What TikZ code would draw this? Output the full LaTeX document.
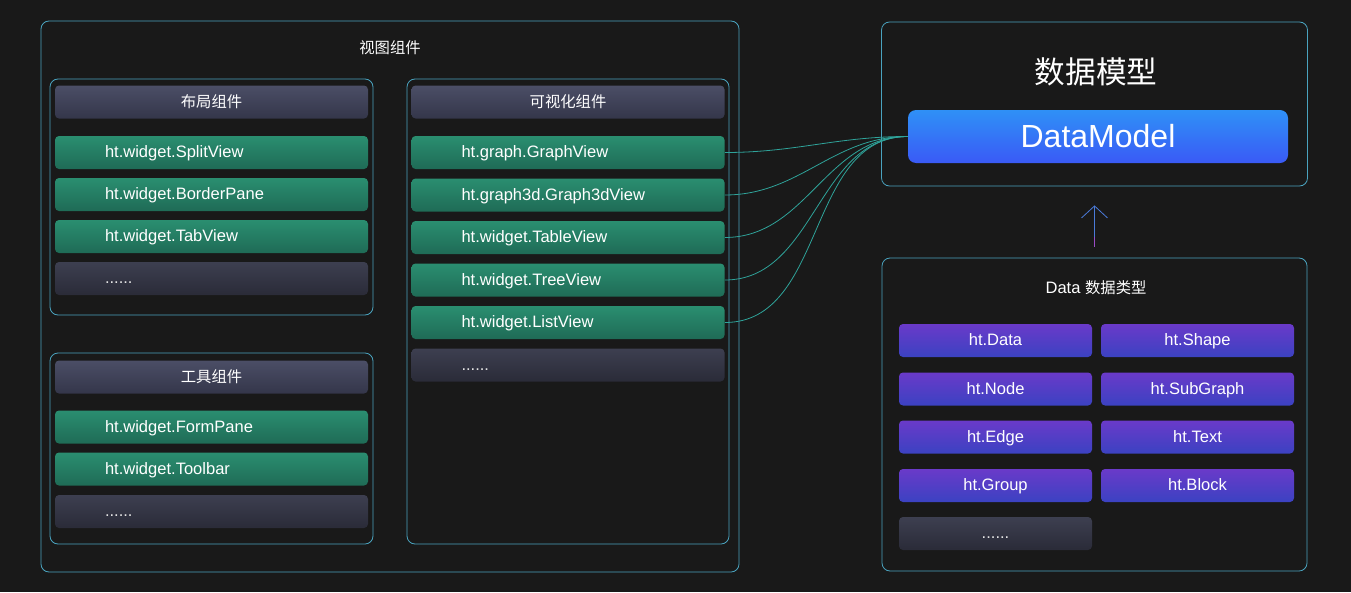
\documentclass[tikz,border=0pt]{standalone}
\usepackage{fontspec}
\setmainfont{Liberation Sans}
\newfontfamily\cjk{Noto Sans CJK SC}
\usetikzlibrary{arrows.meta}
\definecolor{bg}{HTML}{191919}
\definecolor{framec}{HTML}{4AA3BF}
\definecolor{greentop}{HTML}{2A8E70}
\definecolor{greenbot}{HTML}{1F6B56}
\definecolor{hdtop}{HTML}{4B4E66}
\definecolor{hdbot}{HTML}{34364A}
\definecolor{moretop}{HTML}{3D3F50}
\definecolor{morebot}{HTML}{2A2B38}
\definecolor{purptop}{HTML}{6A3AC9}
\definecolor{purpbot}{HTML}{3B42C2}
\definecolor{bluetop}{HTML}{2F90F6}
\definecolor{bluebot}{HTML}{3A5AF6}
\definecolor{linkc}{HTML}{2FA39A}
\definecolor{arrowc}{HTML}{4A7AD8}
\definecolor{arrowlow}{HTML}{9A4CC6}
\tikzset{
  panel/.style={draw=framec,line width=0.6pt,rounded corners=6pt},
  bar/.style={rounded corners=3pt,text=white,minimum height=24.75pt,inner ysep=0pt,text height=10pt,text depth=2pt},
  hdr/.style={bar,top color=hdtop,bottom color=hdbot,minimum width=234.75pt,font=\cjk\fontsize{11.5}{13}\selectfont},
  item/.style={bar,top color=greentop,bottom color=greenbot,text width=159.75pt,inner xsep=37.5pt,align=left,font=\fontsize{12.4}{14}\selectfont},
  more/.style={item,top color=moretop,bottom color=morebot,text=white!80!gray},
  dtype/.style={bar,top color=purptop,bottom color=purpbot,minimum width=144.75pt,font=\fontsize{12.4}{14}\selectfont},
  link/.style={draw=linkc,line width=0.6pt},
}
\begin{document}
\begin{tikzpicture}[x=0.75pt,y=-0.75pt]
\fill[bg] (0,0) rectangle (1351,592);
\useasboundingbox (0,0) rectangle (1351,592);
\node[panel,minimum width=523.5pt,minimum height=413.25pt] (view) at (390,296.5) {};
\node[text=white,font=\cjk\fontsize{11.5}{13}\selectfont] (viewt) at (390,48) {视图组件};
\node[panel,minimum width=242.25pt,minimum height=177pt] (layout) at (211.5,197) {};
\node[panel,minimum width=242.25pt,minimum height=143.25pt] (tool) at (211.5,448.5) {};
\node[panel,minimum width=241.5pt,minimum height=348.75pt] (vis) at (568,311.5) {};
\node[hdr] (lh) at (211.5,102) {布局组件};
\node[item] (l1) at (211.5,152.5) {ht.widget.SplitView};
\node[item] (l2) at (211.5,194.5) {ht.widget.BorderPane};
\node[item] (l3) at (211.5,236.5) {ht.widget.TabView};
\node[more] (l4) at (211.5,278.5) {......};
\node[hdr] (th) at (211.5,377) {工具组件};
\node[item] (t1) at (211.5,427) {ht.widget.FormPane};
\node[item] (t2) at (211.5,469) {ht.widget.Toolbar};
\node[more] (t3) at (211.5,511.5) {......};
\node[hdr] (vh) at (568,102) {可视化组件};
\node[item] (v1) at (568,152.5) {ht.graph.GraphView};
\node[item] (v2) at (568,195) {ht.graph3d.Graph3dView};
\node[item] (v3) at (568,237.5) {ht.widget.TableView};
\node[item] (v4) at (568,280) {ht.widget.TreeView};
\node[item] (v5) at (568,322.5) {ht.widget.ListView};
\node[more] (v6) at (568,365) {......};
\node[panel,minimum width=319.5pt,minimum height=123pt] (model) at (1094.5,104) {};
\node[text=white,font=\cjk\fontsize{23}{26}\selectfont] (modelt) at (1096,72) {数据模型};
\node[rounded corners=6pt,top color=bluetop,bottom color=bluebot,text=white,minimum width=285pt,minimum height=39.75pt,font=\fontsize{24}{28}\selectfont] (dm) at (1098,136.5) {DataModel};
\node[panel,minimum width=318.75pt,minimum height=234.75pt] (data) at (1094.5,414.5) {};
\node[text=white,font=\fontsize{12.4}{14}\selectfont] (datat) at (1096,288) {Data {\cjk\fontsize{11.5}{13}\selectfont 数据类型}};
\node[dtype] (d1) at (995.5,340.5) {ht.Data};
\node[dtype] (d2) at (1197.5,340.5) {ht.Shape};
\node[dtype] (d3) at (995.5,389) {ht.Node};
\node[dtype] (d4) at (1197.5,389) {ht.SubGraph};
\node[dtype] (d5) at (995.5,437) {ht.Edge};
\node[dtype] (d6) at (1197.5,437) {ht.Text};
\node[dtype] (d7) at (995.5,485.5) {ht.Group};
\node[dtype] (d8) at (1197.5,485.5) {ht.Block};
\node[dtype,top color=moretop,bottom color=morebot,text=white!80!gray] (d9) at (995.5,533.5) {......};
\draw[link] (v1.east) to[out=0,in=180] (dm.west);
\draw[link] (v2.east) to[out=0,in=180] (dm.west);
\draw[link] (v3.east) to[out=0,in=180] (dm.west);
\draw[link] (v4.east) to[out=0,in=180] (dm.west);
\draw[link] (v5.east) to[out=0,in=180] (dm.west);
\draw[arrowc,line width=0.6pt,-{Straight Barb[length=9pt,width=19.5pt]},shorten <=8.25pt,shorten >=14.25pt] (data.north) -- (model.south);
\draw[arrowlow,line width=0.6pt,shorten <=8.25pt,shorten >=38pt] (data.north) -- (model.south);
\end{tikzpicture}
\end{document}
